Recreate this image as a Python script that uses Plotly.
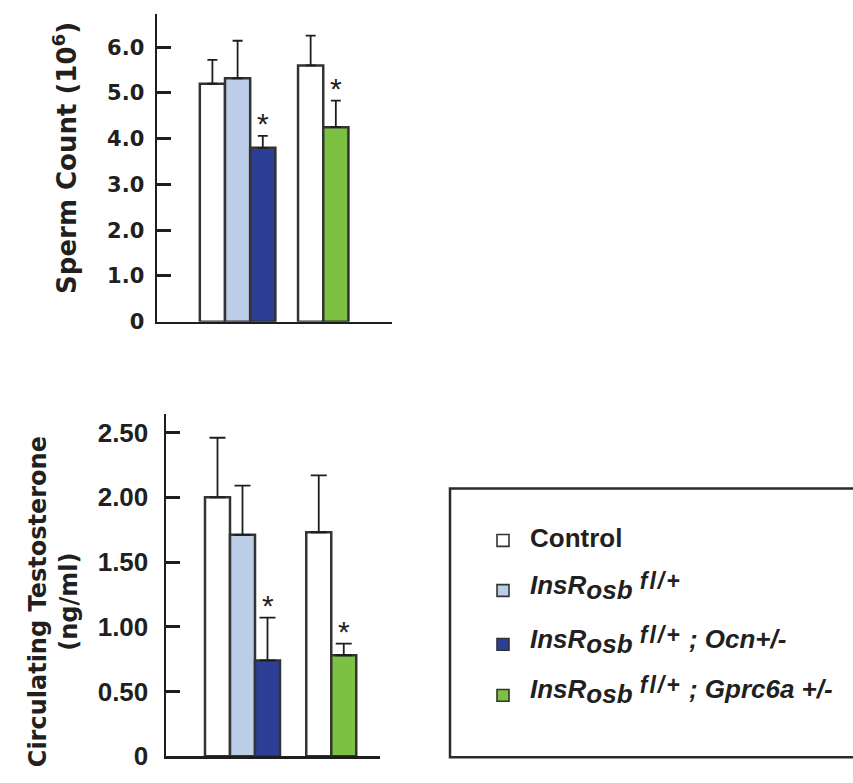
import plotly.graph_objects as go

W, H = 853, 783

# ---------------- data ----------------
bar_genotype = ["control", "insr", "insr_ocn", "control", "insr_gprc6a"]
bar_group = [0, 0, 0, 1, 1]
significant = [False, False, True, False, True]

sperm_count = [5.20, 5.32, 3.80, 5.60, 4.25]
sperm_sem = [0.52, 0.82, 0.26, 0.65, 0.58]

testosterone = [2.00, 1.71, 0.74, 1.73, 0.78]
testosterone_sem = [0.46, 0.38, 0.33, 0.44, 0.09]

sperm_tickvals = [0, 1, 2, 3, 4, 5, 6]
sperm_ticktext = ["0", "1.0", "2.0", "3.0", "4.0", "5.0", "6.0"]
testo_tickvals = [0, 0.5, 1.0, 1.5, 2.0, 2.5]
testo_ticktext = ["0", "0.50", "1.00", "1.50", "2.00", "2.50"]

legend_keys = ["control", "insr", "insr_ocn", "insr_gprc6a"]
SUB = '<sub><span style="font-size:26px">osb</span></sub>'
SUP = '<span style="font-size:23px;letter-spacing:2px;baseline-shift:5px">fl/+</span>'
legend_text = [
    "<b>Control</b>",
    "<b><i>InsR" + SUB + " " + SUP + "</i></b>",
    "<b><i>InsR" + SUB + " " + SUP + " ; Ocn+/-</i></b>",
    "<b><i>InsR" + SUB + " " + SUP + " ; Gprc6a +/-</i></b>",
]

# ---------------- styles ----------------
COLORS = {
    "control": "#ffffff",
    "insr": "#bccde8",
    "insr_ocn": "#2d3e96",
    "insr_gprc6a": "#7dc142",
}
OUTLINE = "#333333"
AXIS = "#1e1e1e"
TEXT = "#231f20"


def positions(groups, gap):
    return [i + g * gap for i, g in enumerate(groups)]


x_top = positions(bar_group, 0.9)
x_bot = positions(bar_group, 1.05)
bar_colors = [COLORS[g] for g in bar_genotype]


def px_x(p):
    return p / W


def px_y(p):
    return 1 - p / H


fig = go.Figure()

fig.add_trace(go.Bar(
    x=x_top, y=sperm_count, width=1, xaxis="x", yaxis="y",
    marker=dict(color=bar_colors, line=dict(color=OUTLINE, width=2.5)),
    error_y=dict(type="data", symmetric=False, array=sperm_sem,
                 arrayminus=[0] * len(sperm_sem), color=AXIS,
                 thickness=1.8, width=5),
    showlegend=False, hoverinfo="skip",
))
fig.add_trace(go.Bar(
    x=x_bot, y=testosterone, width=1, xaxis="x2", yaxis="y2",
    marker=dict(color=bar_colors, line=dict(color=OUTLINE, width=2.5)),
    error_y=dict(type="data", symmetric=False, array=testosterone_sem,
                 arrayminus=[0] * len(testosterone_sem), color=AXIS,
                 thickness=1.8, width=8),
    showlegend=False, hoverinfo="skip",
))

annotations = []
# significance asterisks
for xs, vals, errs, xr, yr in [(x_top, sperm_count, sperm_sem, "x", "y"),
                               (x_bot, testosterone, testosterone_sem, "x2", "y2")]:
    for xv, v, e, s in zip(xs, vals, errs, significant):
        if s:
            annotations.append(dict(
                x=xv, y=v + e, xref=xr, yref=yr, text="*", showarrow=False,
                xanchor="center", yanchor="bottom", yshift=-6,
                font=dict(family="Liberation Sans, Arial", size=30, color=TEXT)))

# axis titles
annotations.append(dict(
    x=px_x(65), y=px_y(161), xref="paper", yref="paper",
    xanchor="center", yanchor="middle",
    text="<b>Sperm Count (10<sup>6</sup>)</b>", textangle=-90, showarrow=False,
    font=dict(family="DejaVu Sans", size=26, color=TEXT)))
annotations.append(dict(
    x=px_x(53), y=px_y(614), xref="paper", yref="paper",
    xanchor="center", yanchor="middle",
    text="<b>Circulating Testosterone<br>(ng/ml)</b>", textangle=-90, showarrow=False,
    font=dict(family="DejaVu Sans", size=24, color=TEXT)))

# legend
shapes = [dict(type="rect", xref="paper", yref="paper",
               x0=px_x(450), x1=px_x(900), y0=px_y(772), y1=px_y(498),
               line=dict(color="#2b2b2b", width=2.5), fillcolor="rgba(0,0,0,0)")]
square_y = [551, 602, 657, 709]
text_y = [549, 598, 653, 704]
for key, label, sy, ty in zip(legend_keys, legend_text, square_y, text_y):
    shapes.append(dict(type="rect", xref="paper", yref="paper",
                       x0=px_x(497), x1=px_x(509), y0=px_y(sy + 6), y1=px_y(sy - 6),
                       line=dict(color=OUTLINE, width=1.6), fillcolor=COLORS[key]))
    annotations.append(dict(
        x=px_x(528), y=px_y(ty), xref="paper", yref="paper", text=label,
        showarrow=False, xanchor="left", yanchor="middle",
        font=dict(family="Liberation Sans, Arial", size=26, color=TEXT)))

axis_common = dict(showgrid=False, zeroline=False, showline=True,
                   linecolor=AXIS, linewidth=2.5, fixedrange=True)

fig.update_layout(
    width=W, height=H,
    margin=dict(l=0, r=0, t=0, b=0),
    paper_bgcolor="white", plot_bgcolor="white",
    showlegend=False,
    hovermode=False,
    modebar=dict(bgcolor="rgba(0,0,0,0)", color="rgba(0,0,0,0)",
                 activecolor="rgba(0,0,0,0)"),
    xaxis=dict(domain=[px_x(157), px_x(392)], range=[-2.2, 7.13], anchor="y",
               showticklabels=False, ticks="", **axis_common),
    yaxis=dict(domain=[px_y(328), px_y(14)], range=[0, 6.73], anchor="x",
               tickvals=sperm_tickvals, ticktext=sperm_ticktext,
               ticks="inside", ticklen=14, tickwidth=3, tickcolor=AXIS,
               ticklabelstandoff=6,
               tickfont=dict(family="DejaVu Sans", size=21, color=TEXT, weight="bold"),
               **axis_common),
    xaxis2=dict(domain=[px_x(166), px_x(380)], range=[-2.06, 6.5], anchor="y2",
                showticklabels=False, ticks="", **axis_common),
    yaxis2=dict(domain=[px_y(771), px_y(422)], range=[0, 2.644], anchor="x2",
                tickvals=testo_tickvals, ticktext=testo_ticktext,
                ticks="inside", ticklen=14, tickwidth=3, tickcolor=AXIS,
                ticklabelstandoff=10,
                tickfont=dict(family="Liberation Sans, Arial", size=26, color=TEXT, weight="bold"),
                **axis_common),
    annotations=annotations,
    shapes=shapes,
)

# remove the browser's default body margin so the 853x783 figure fills the window
fig.write_html("out.html",
               config={"displayModeBar": False, "staticPlot": True},
               post_script="document.body.style.margin='0px';")
